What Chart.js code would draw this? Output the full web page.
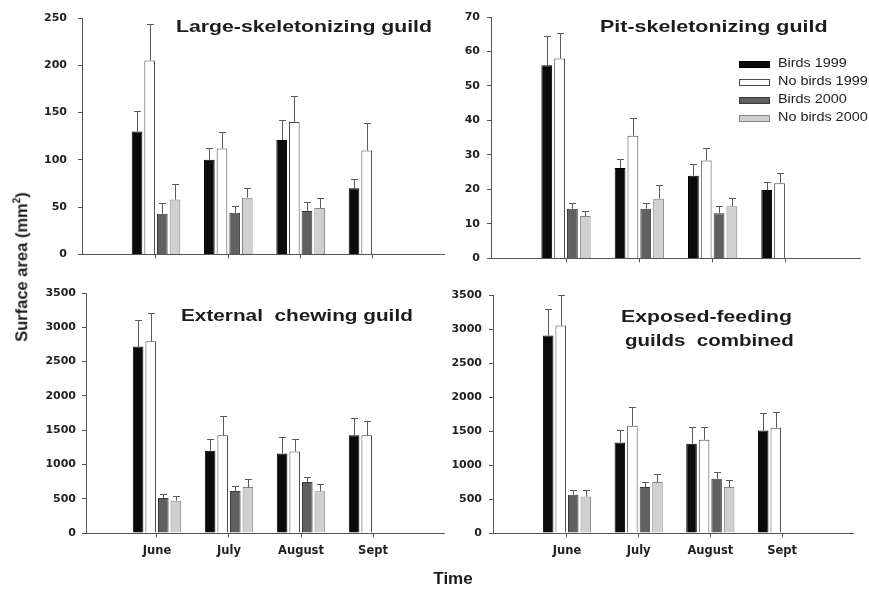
<!DOCTYPE html>
<html>
<head>
<meta charset="utf-8">
<script src="https://cdn.jsdelivr.net/npm/chart.js@4.4.0/dist/chart.umd.min.js"></script>
<style>
  body { margin: 0; background: #fff; }
  #wrap { position: relative; width: 869px; height: 589px; overflow: hidden; font-family: "Liberation Sans", Arial, sans-serif; color: #1c1c1c; }
  canvas { position: absolute; }
  .title { position: absolute; font-weight: bold; font-size: 17px; line-height: 20px; white-space: pre; transform-origin: 0 50%; }
  .legend { position: absolute; left: 739px; top: 55px; }
  .legend div { position: relative; height: 18px; }
  .legend span.sw { position: absolute; left: 0; top: 6px; width: 29px; height: 5px; }
  .legend span.tx { position: absolute; left: 39px; top: 1px; font-size: 12px; line-height: 15px; white-space: nowrap; transform: scaleX(1.2); transform-origin: 0 50%; }
  #ytitle { position: absolute; left: 21px; top: 267px; transform: translate(-50%, -50%) rotate(-90deg); font-weight: bold; font-size: 16.5px; white-space: nowrap; }
  #ytitle sup { font-size: 10px; }
  #xtitle { position: absolute; left: 453px; top: 579px; transform: translate(-50%, -50%); font-weight: bold; font-size: 17px; }
</style>
</head>
<body>
<div id="wrap">
  <canvas id="c1" width="450" height="272" style="left:0;top:0"></canvas>
  <canvas id="c2" width="439" height="272" style="left:430px;top:0"></canvas>
  <canvas id="c3" width="450" height="290" style="left:0;top:280px"></canvas>
  <canvas id="c4" width="439" height="290" style="left:430px;top:280px"></canvas>

  <div class="title" data-w="256" style="left:176px;top:17px">Large-skeletonizing guild</div>
  <div class="title" data-w="227" style="left:600px;top:17px">Pit-skeletonizing guild</div>
  <div class="title" data-w="232" style="left:181px;top:306px">External  chewing guild</div>
  <div class="title" data-w="171" style="left:621px;top:307px">Exposed-feeding</div>
  <div class="title" data-w="169" style="left:625px;top:331px">guilds  combined</div>

  <div class="legend" id="legend"></div>
  <div id="ytitle">Surface area (mm<sup>2</sup>)</div>
  <div id="xtitle">Time</div>
</div>

<script>
const months = ['June', 'July', 'August', 'Sept'];
const seriesNames = ['Birds 1999', 'No birds 1999', 'Birds 2000', 'No birds 2000'];
const seriesFill = ['#0b0b0b', '#ffffff', '#606060', '#d0d0d0'];
const seriesBorder = ['#000000', '#4a4a4a', '#3a3a3a', '#858585'];

// one row per series, one value per month (null = not sampled)
const largeMean = [
  [130, 100, 121, 70],
  [205, 112, 140, 110],
  [43, 44, 46, null],
  [58, 60, 49, null]
];
const largeErr = [
  [22, 13, 21, 10],
  [39, 17, 27, 29],
  [11, 7, 9, null],
  [16, 10, 11, null]
];
const largeTicks = [0, 50, 100, 150, 200, 250];

const pitMean = [
  [56, 26.2, 24, 19.8],
  [58, 35.6, 28.4, 21.8],
  [14.4, 14.4, 13.1, null],
  [12.3, 17.3, 15.1, null]
];
const pitErr = [
  [8.5, 2.6, 3.5, 2.4],
  [7.5, 5.1, 3.5, 3.1],
  [1.8, 1.8, 2.0, null],
  [1.4, 4.0, 2.4, null]
];
const pitTicks = [0, 10, 20, 30, 40, 50, 60, 70];

const chewMean = [
  [2720, 1200, 1160, 1425],
  [2795, 1424, 1190, 1424],
  [510, 612, 744, null],
  [472, 671, 608, null]
];
const chewErr = [
  [380, 175, 235, 252],
  [413, 277, 186, 204],
  [64, 68, 68, null],
  [73, 117, 107, null]
];
const chewTicks = [0, 500, 1000, 1500, 2000, 2500, 3000, 3500];

const allMean = [
  [2903, 1331, 1312, 1508],
  [3050, 1576, 1370, 1547],
  [563, 675, 798, null],
  [538, 749, 675, null]
];
const allErr = [
  [386, 186, 254, 254],
  [450, 284, 196, 230],
  [64, 74, 93, null],
  [89, 117, 98, null]
];
const allTicks = [0, 500, 1000, 1500, 2000, 2500, 3000, 3500];

// upper error bars with a small cap
const errorBars = {
  id: 'errorBars',
  afterDatasetsDraw(chart) {
    const ctx = chart.ctx;
    const yScale = chart.scales.y;
    ctx.save();
    ctx.strokeStyle = '#5a5a5a';
    ctx.lineWidth = 1;
    chart.data.datasets.forEach((ds, di) => {
      chart.getDatasetMeta(di).data.forEach((bar, i) => {
        const pt = ds.data[i];
        const top = Math.round(yScale.getPixelForValue(pt.y + pt.e)) + 0.5;
        const x = Math.round(bar.x) + 0.5;
        ctx.beginPath();
        ctx.moveTo(x, bar.y);
        ctx.lineTo(x, top);
        ctx.moveTo(x - 3.5, top);
        ctx.lineTo(x + 3.5, top);
        ctx.stroke();
      });
    });
    ctx.restore();
  }
};

const tickFont = { family: 'DejaVu Sans', weight: 'bold', size: 11 };

function makePanel(id, mean, err, yTicks, lay) {
  const datasets = seriesNames.map((name, s) => ({
    label: name,
    data: mean[s]
      .map((v, m) => ({ x: m + 1, y: v, e: err[s][m] }))
      .filter(p => p.y !== null),
    backgroundColor: seriesFill[s],
    borderColor: seriesBorder[s],
    borderWidth: 1,
    categoryPercentage: 0.7,
    barPercentage: 0.84
  }));

  new Chart(document.getElementById(id), {
    type: 'bar',
    data: { datasets: datasets },
    options: {
      responsive: false,
      animation: false,
      layout: { padding: { left: 0, top: lay.top, right: lay.right, bottom: lay.bottom } },
      plugins: { legend: { display: false }, tooltip: { enabled: false } },
      scales: {
        x: {
          type: 'linear',
          min: lay.xMin,
          max: lay.xMax,
          offset: false,
          afterBuildTicks: s => { s.ticks = months.map((m, i) => ({ value: i + 1 })); },
          afterFit: s => { s.height = lay.xHeight; },
          grid: { drawOnChartArea: false, offset: false, tickLength: 4, color: '#555' },
          border: { color: '#555' },
          ticks: {
            display: lay.labels,
            autoSkip: false,
            maxRotation: 0,
            padding: 7,
            color: '#222',
            font: { family: 'DejaVu Sans', weight: 'bold', size: 11.5 },
            callback: v => months[v - 1]
          }
        },
        y: {
          min: yTicks[0],
          max: yTicks[yTicks.length - 1],
          afterBuildTicks: s => { s.ticks = yTicks.map(v => ({ value: v })); },
          afterFit: s => { s.width = lay.yWidth; },
          grid: { drawOnChartArea: false, tickLength: 4, color: '#555' },
          border: { color: '#555' },
          ticks: { padding: lay.tickPad, color: '#222', font: tickFont, callback: v => String(v) }
        }
      }
    },
    plugins: [errorBars]
  });
}

makePanel('c1', largeMean, largeErr, largeTicks, { yWidth: 82, top: 18, right: 6, bottom: 0, xHeight: 12, labels: false, tickPad: 11, xMin: -0.023, xMax: 4.982 });
makePanel('c2', pitMean, pitErr, pitTicks, { yWidth: 61, top: 17, right: 9, bottom: 0, xHeight: 12, labels: false, tickPad: 7, xMin: -0.023, xMax: 5.01 });
makePanel('c3', chewMean, chewErr, chewTicks, { yWidth: 86, top: 13, right: 6, bottom: 7, xHeight: 30, labels: true, tickPad: 6, xMin: 0.014, xMax: 4.986 });
makePanel('c4', allMean, allErr, allTicks, { yWidth: 63, top: 15, right: 16, bottom: 7, xHeight: 30, labels: true, tickPad: 7, xMin: -0.032, xMax: 4.99 });

// legend from the series arrays
const legend = document.getElementById('legend');
seriesNames.forEach((name, s) => {
  const row = document.createElement('div');
  row.innerHTML = '<span class="sw" style="background:' + seriesFill[s] + ';border:1px solid ' + seriesBorder[s] + '"></span>' +
    '<span class="tx">' + name + '</span>';
  legend.appendChild(row);
});

// the source figure is stretched sideways; stretch the titles to the same width
document.querySelectorAll('.title').forEach(el => {
  const w = +el.dataset.w;
  el.style.transform = 'scaleX(' + (w / el.offsetWidth) + ')';
});
</script>
</body>
</html>
